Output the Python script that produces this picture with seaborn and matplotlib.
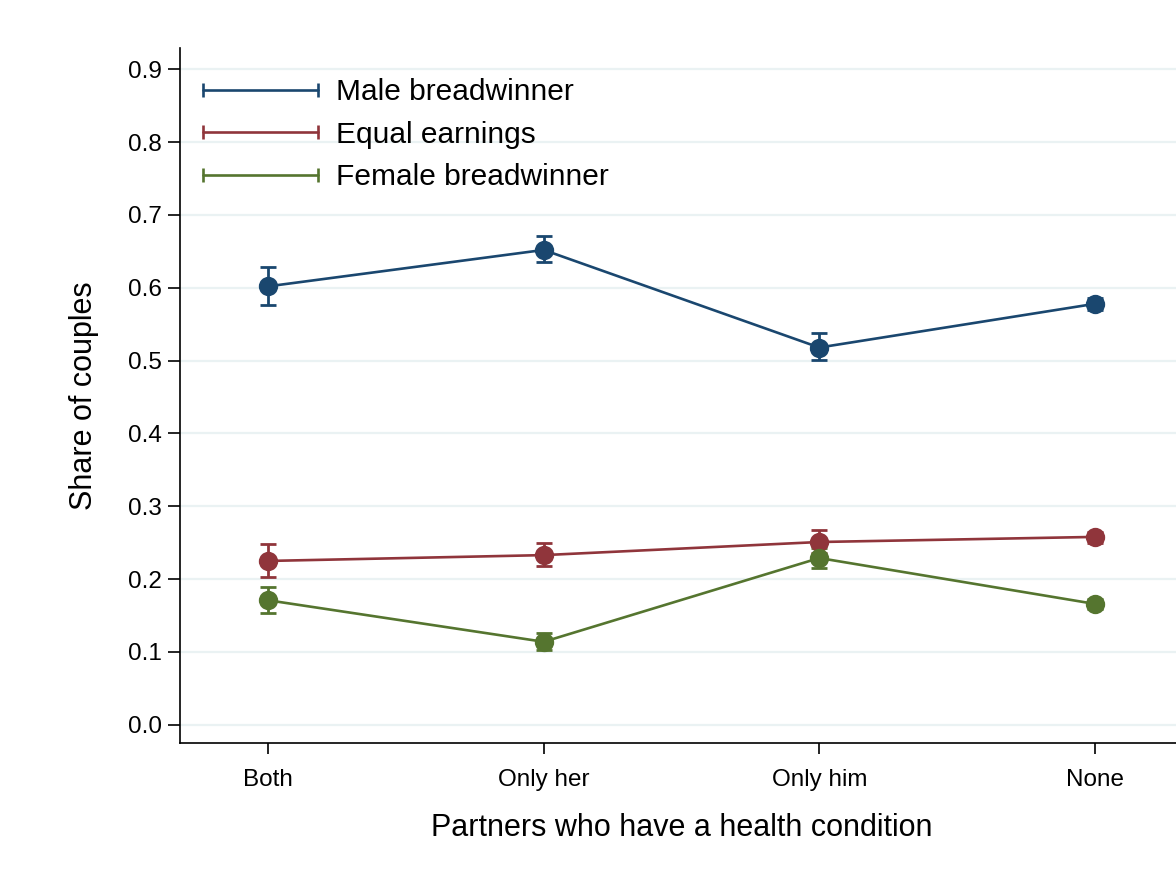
import matplotlib
matplotlib.use("Agg")
import matplotlib.pyplot as plt
from matplotlib.lines import Line2D
import numpy as np
import pandas as pd
import seaborn as sns

# Shares of couples by earnings arrangement and who has a health condition
conditions = ["Both", "Only her", "Only him", "None"]
groups = ["Male breadwinner", "Equal earnings", "Female breadwinner"]

male_share = [0.602, 0.652, 0.518, 0.578]
male_lo = [0.576, 0.635, 0.501, 0.569]
male_hi = [0.628, 0.671, 0.538, 0.586]

equal_share = [0.225, 0.233, 0.251, 0.258]
equal_lo = [0.203, 0.218, 0.236, 0.250]
equal_hi = [0.248, 0.250, 0.267, 0.265]

female_share = [0.171, 0.114, 0.229, 0.166]
female_lo = [0.154, 0.103, 0.215, 0.159]
female_hi = [0.189, 0.126, 0.243, 0.173]

y_ticks = [0.0, 0.1, 0.2, 0.3, 0.4, 0.5, 0.6, 0.7, 0.8, 0.9]
colors = ["#1a476f", "#90353b", "#55752f"]

df = pd.DataFrame({
    "condition": conditions * 3,
    "group": np.repeat(groups, len(conditions)),
    "share": male_share + equal_share + female_share,
    "lo": male_lo + equal_lo + female_lo,
    "hi": male_hi + equal_hi + female_hi,
})

sns.set_theme(style="white")
plt.rcParams["font.family"] = ["Liberation Sans", "DejaVu Sans"]
plt.rcParams["text.color"] = "black"

fig = plt.figure(figsize=(11.76, 8.92), dpi=100)
ax = fig.add_axes([0.153, 0.167, 0.853, 0.779])

for t in y_ticks:
    ax.axhline(t, color="#eaf2f3", lw=1.6, zorder=0)

sns.pointplot(data=df, x="condition", y="share", hue="group",
              order=conditions, hue_order=groups, palette=colors,
              errorbar=None, markers="o", markersize=12.5, linewidth=1.9,
              legend=False, ax=ax, zorder=3)

xpos = np.arange(len(conditions))
for g, c in zip(groups, colors):
    sub = df[df["group"] == g].set_index("condition").loc[conditions]
    ax.errorbar(xpos, sub["share"],
                yerr=[sub["share"] - sub["lo"], sub["hi"] - sub["share"]],
                fmt="none", ecolor=c, elinewidth=2.0, capsize=5.5, capthick=2.0,
                zorder=2)

ax.set_ylim(-0.025, 0.929)
ax.set_xlim(-0.32, 3.32)
ax.set_yticks(y_ticks)
ax.set_yticklabels([f"{t:.1f}" for t in y_ticks])
ax.tick_params(axis="both", which="both", direction="out", width=1.2,
               color="black", labelsize=17.5, labelcolor="black")
ax.tick_params(axis="y", length=9, pad=4)
ax.tick_params(axis="x", length=8, pad=10.5)
ax.yaxis.set_ticks_position("left")
ax.xaxis.set_ticks_position("bottom")

for side in ["top", "right"]:
    ax.spines[side].set_visible(False)
for side in ["left", "bottom"]:
    ax.spines[side].set_color("black")
    ax.spines[side].set_linewidth(1.2)

ax.set_xlabel("Partners who have a health condition", fontsize=22, labelpad=16,
              color="black")
ax.set_ylabel("Share of couples", fontsize=22, labelpad=21, color="black")

handles = [Line2D([0, 1], [0, 0], color=c, lw=1.9, marker="|", markersize=10,
                  markeredgewidth=1.9) for c in colors]
leg = ax.legend(handles, groups, loc="upper left", bbox_to_anchor=(0.002, 0.974),
                frameon=False, fontsize=21.5, numpoints=2, handlelength=4.45,
                handletextpad=0.3, labelspacing=0.49, borderaxespad=0.0)
for txt in leg.get_texts():
    txt.set_color("black")

fig.savefig("out.png", dpi=100, facecolor="white")
